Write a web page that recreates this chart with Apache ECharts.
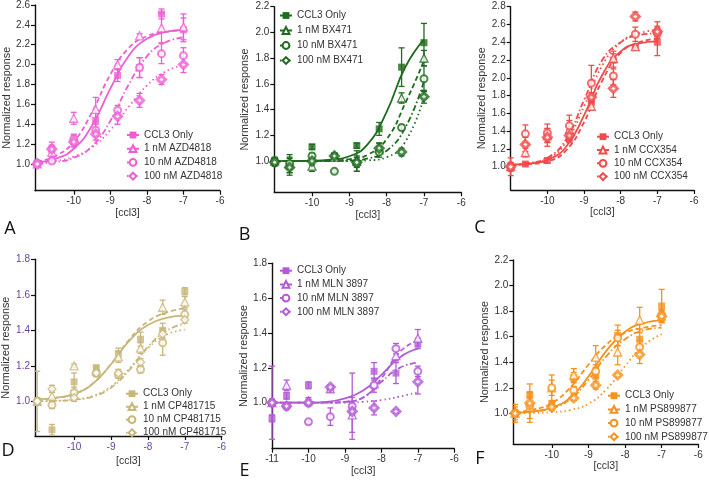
<!DOCTYPE html>
<html><head><meta charset="utf-8">
<script src="https://cdn.jsdelivr.net/npm/echarts@6/dist/echarts.min.js"></script>
<style>html,body{margin:0;padding:0;background:#fff}#c{width:709px;height:481px}</style>
</head><body><div id="c"></div>
<script>
// ---------- DATA ----------
const doseX = [-11, -10.6, -10, -9.4, -8.8, -8.2, -7.6, -7];
const fitX  = [-11, -10.5, -10, -9.5, -9, -8.5, -8, -7.5, -7];
const xTicks  = [-10, -9, -8, -7, -6];
const xTicksE = [-11, -10, -9, -8, -7, -6];
const yTicksA = [1.0, 1.2, 1.4, 1.6, 1.8, 2.0, 2.2, 2.4, 2.6];
const yTicksB = [1.0, 1.2, 1.4, 1.6, 1.8, 2.0, 2.2];
const yTicksC = [1.0, 1.2, 1.4, 1.6, 1.8, 2.0, 2.2, 2.4, 2.6, 2.8];
const yTicksD = [1.0, 1.2, 1.4, 1.6, 1.8];
const yTicksE = [1.0, 1.2, 1.4, 1.6, 1.8];
const yTicksF = [1.0, 1.2, 1.4, 1.6, 1.8, 2.0, 2.2];

const A_names = ['CCL3 Only', '1 nM AZD4818', '10 nM AZD4818', '100 nM AZD4818'];
const A_means = [
  [1.00, 1.15, 1.23, 1.44, 1.89, 1.97, 2.51, 2.35],
  [1.00, 1.12, 1.46, 1.55, 2.00, 2.29, 2.37, 2.38],
  [1.01, 1.03, 1.25, 1.34, 1.54, 1.97, 2.11, 2.09],
  [1.00, 1.15, 1.22, 1.30, 1.48, 1.64, 1.85, 2.00]];
const A_errs = [
  [0.02, 0.07, 0.06, 0.10, 0.06, 0.10, 0.05, 0.12],
  [0.02, 0.05, 0.06, 0.12, 0.05, 0.02, 0.15, 0.13],
  [0.02, 0.02, 0.05, 0.06, 0.05, 0.10, 0.10, 0.08],
  [0.02, 0.04, 0.04, 0.06, 0.08, 0.07, 0.05, 0.08]];
const A_fits = [
  [1.017, 1.052, 1.153, 1.387, 1.758, 2.087, 2.260, 2.327, 2.349],
  [1.026, 1.080, 1.225, 1.522, 1.900, 2.166, 2.286, 2.329, 2.343],
  [1.006, 1.020, 1.062, 1.178, 1.433, 1.797, 2.083, 2.223, 2.274],
  [1.012, 1.031, 1.074, 1.168, 1.340, 1.574, 1.789, 1.928, 1.998]];

const B_names = ['CCL3 Only', '1 nM BX471', '10 nM BX471', '100 nM BX471'];
const B_means = [
  [1.00, 0.96, 1.11, 1.04, 1.12, 1.25, 1.73, 1.92],
  [1.00, 0.98, 0.96, 1.03, 1.00, 1.10, 1.49, 1.80],
  [1.00, 0.98, 1.04, 0.92, 0.98, 1.07, 1.26, 1.64],
  [0.99, 0.95, 1.00, 1.04, 0.99, 1.10, 1.07, 1.50]];
const B_errs = [
  [0.03, 0.07, 0.02, 0.02, 0.02, 0.05, 0.15, 0.15],
  [0.02, 0.07, 0.04, 0.02, 0.08, 0.04, 0.04, 0.06],
  [0.02, 0.04, 0.02, 0.01, 0.06, 0.04, 0.02, 0.10],
  [0.03, 0.04, 0.03, 0.01, 0.04, 0.04, 0.03, 0.05]];
const B_fits = [
  [1.000, 1.001, 1.002, 1.010, 1.037, 1.133, 1.383, 1.731, 1.946],
  [1.000, 1.000, 1.001, 1.005, 1.015, 1.050, 1.170, 1.450, 1.780],
  [1.000, 1.000, 1.000, 1.000, 1.003, 1.020, 1.080, 1.260, 1.620],
  [1.000, 1.000, 1.000, 1.000, 1.000, 1.005, 1.030, 1.150, 1.500]];

const C_names = ['CCL3 Only', '1 nM CCX354', '10 nM CCX354', '100 nM CCX354'];
const C_means = [
  [1.00, 1.03, 1.07, 1.32, 1.72, 2.20, 2.34, 2.40],
  [1.00, 1.16, 1.35, 1.42, 1.68, 2.22, 2.35, 2.55],
  [1.00, 1.37, 1.38, 1.46, 1.94, 2.02, 2.49, 2.50],
  [1.00, 1.25, 1.33, 1.35, 1.78, 1.88, 2.69, 2.52]];
const C_errs = [
  [0.05, 0.02, 0.03, 0.05, 0.05, 0.10, 0.03, 0.15],
  [0.04, 0.05, 0.08, 0.10, 0.04, 0.05, 0.03, 0.08],
  [0.03, 0.10, 0.10, 0.12, 0.20, 0.10, 0.08, 0.06],
  [0.10, 0.08, 0.10, 0.06, 0.05, 0.10, 0.05, 0.06]];
const C_fits = [
  [1.024, 1.035, 1.076, 1.219, 1.577, 2.034, 2.298, 2.387, 2.411],
  [1.020, 1.030, 1.060, 1.180, 1.500, 1.970, 2.280, 2.400, 2.440],
  [1.020, 1.040, 1.100, 1.300, 1.750, 2.200, 2.400, 2.480, 2.500],
  [1.020, 1.040, 1.090, 1.270, 1.680, 2.140, 2.400, 2.500, 2.540]];

const D_names = ['CCL3 Only', '1 nM CP481715', '10 nM CP481715', '100 nM CP481715'];
const D_means = [
  [1.00, 0.84, 1.11, 1.19, 1.27, 1.35, 1.40, 1.62],
  [1.00, 1.03, 1.20, 1.17, 1.25, 1.30, 1.53, 1.56],
  [1.00, 0.98, 1.05, 1.16, 1.15, 1.18, 1.33, 1.49],
  [1.00, 1.07, 1.02, 1.16, 1.16, 1.22, 1.38, 1.46]];
const D_errs = [
  [0.17, 0.03, 0.05, 0.01, 0.03, 0.04, 0.04, 0.02],
  [0.02, 0.03, 0.01, 0.02, 0.03, 0.03, 0.04, 0.03],
  [0.02, 0.02, 0.03, 0.02, 0.02, 0.02, 0.07, 0.03],
  [0.02, 0.02, 0.02, 0.02, 0.02, 0.02, 0.03, 0.02]];
const D_fits = [
  [1.013, 1.020, 1.042, 1.098, 1.209, 1.342, 1.430, 1.470, 1.483],
  [1.010, 1.020, 1.040, 1.100, 1.210, 1.350, 1.450, 1.500, 1.525],
  [1.001, 1.003, 1.009, 1.027, 1.077, 1.178, 1.307, 1.397, 1.438],
  [1.001, 1.003, 1.011, 1.031, 1.084, 1.187, 1.300, 1.375, 1.404]];

const E_names = ['CCL3 Only', '1 nM MLN 3897', '10 nM MLN 3897', '100 nM MLN 3897'];
const E_means = [
  [0.91, 1.04, 1.10, 1.08, 0.96, 1.18, 1.17, 1.34],
  [1.00, 1.10, 1.01, 1.08, 0.93, 1.11, 1.27, 1.37],
  [1.00, 0.98, 0.89, 0.92, 0.98, 1.10, 1.31, 1.18],
  [1.00, 0.98, 1.00, 1.09, 0.95, 0.97, 0.95, 1.12]];
const E_errs = [
  [0.02, 0.02, 0.02, 0.01, 0.03, 0.05, 0.06, 0.03],
  [0.21, 0.03, 0.02, 0.01, 0.10, 0.03, 0.03, 0.05],
  [0.02, 0.02, 0.01, 0.05, 0.19, 0.04, 0.03, 0.03],
  [0.02, 0.01, 0.02, 0.01, 0.02, 0.04, 0.01, 0.07]];
const E_fits = [
  [1.000, 1.000, 1.000, 1.005, 1.025, 1.070, 1.160, 1.260, 1.310],
  [1.000, 1.000, 1.000, 1.000, 1.005, 1.030, 1.140, 1.290, 1.360],
  [1.000, 1.000, 1.000, 1.000, 1.005, 1.030, 1.120, 1.200, 1.230],
  [1.000, 1.000, 1.000, 1.000, 1.000, 1.005, 1.015, 1.035, 1.060]];

const F_names = ['CCL3 Only', '1 nM PS899877', '10 nM PS899877', '100 nM PS899877'];
const F_means = [
  [1.00, 1.14, 1.07, 1.28, 1.29, 1.61, 1.58, 1.84],
  [1.00, 1.05, 1.20, 1.30, 1.44, 1.48, 1.73, 1.76],
  [1.00, 1.06, 1.20, 1.18, 1.33, 1.59, 1.52, 1.77],
  [1.00, 1.08, 1.05, 1.12, 1.22, 1.30, 1.46, 1.76]];
const F_errs = [
  [0.07, 0.09, 0.03, 0.04, 0.07, 0.08, 0.08, 0.13],
  [0.05, 0.12, 0.10, 0.05, 0.09, 0.10, 0.10, 0.05],
  [0.03, 0.10, 0.06, 0.03, 0.05, 0.06, 0.05, 0.04],
  [0.03, 0.05, 0.03, 0.02, 0.03, 0.01, 0.07, 0.04]];
const F_fits = [
  [1.005, 1.015, 1.044, 1.123, 1.287, 1.493, 1.639, 1.705, 1.728],
  [1.010, 1.030, 1.080, 1.200, 1.380, 1.540, 1.630, 1.670, 1.690],
  [1.005, 1.015, 1.040, 1.110, 1.260, 1.450, 1.580, 1.650, 1.670],
  [1.000, 1.003, 1.009, 1.026, 1.075, 1.190, 1.370, 1.530, 1.620]];

// ---------- LAYOUT / STYLE ----------
const panels = [
  {L:'A', names:A_names, means:A_means, errs:A_errs, fits:A_fits, color:'#ec5fd4', yT:yTicksA, xT:xTicks,
   g:{left:35, top:5, width:185, height:185.7}, xMin:-11.06, yMin:0.731, yMax:2.6,
   leg:{left:126, top:129, gap:1.7}, yGap:21, xGap:16, letter:[10,229], openDiamond:false, lblColor:'#333'},
  {L:'B', names:B_names, means:B_means, errs:B_errs, fits:B_fits, color:'#1e6b1e', yT:yTicksB, xT:xTicks,
   g:{left:274.3, top:6.7, width:187, height:185.6}, xMin:-11.01, yMin:0.757, yMax:2.2,
   leg:{left:279, top:9.5, gap:3}, yGap:24, xGap:15.5, letter:[244.5,235], openDiamond:false, lblColor:'#333'},
  {L:'C', names:C_names, means:C_means, errs:C_errs, fits:C_fits, color:'#f04a4a', yT:yTicksC, xT:xTicks,
   g:{left:510.7, top:6.7, width:183.3, height:183.3}, xMin:-11.0, yMin:0.738, yMax:2.8,
   leg:{left:596, top:130.7, gap:1.3}, yGap:22, xGap:16, letter:[480,227.5], openDiamond:false, lblColor:'#333'},
  {L:'D', names:D_names, means:D_means, errs:D_errs, fits:D_fits, color:'#c8b67a', yT:yTicksD, xT:xTicks,
   g:{left:35, top:259.3, width:186.7, height:176.7}, xMin:-11.06, yMin:0.805, yMax:1.8,
   leg:{left:125, top:387.7, gap:1}, yGap:23, xGap:20, letter:[8,451], openDiamond:true, lblColor:'#6b3fa0'},
  {L:'E', names:E_names, means:E_means, errs:E_errs, fits:E_fits, color:'#b35bd6', yT:yTicksE, xT:xTicksE,
   g:{left:272, top:263.3, width:182.3, height:185.4}, xMin:-11.0, yMin:0.736, yMax:1.8,
   leg:{left:279, top:264.7, gap:1.7}, yGap:22, xGap:15, letter:[244.5,471], openDiamond:false, lblColor:'#333'},
  {L:'F', names:F_names, means:F_means, errs:F_errs, fits:F_fits, color:'#f5921e', yT:yTicksF, xT:xTicks,
   g:{left:513.3, top:260, width:185, height:184}, xMin:-11.05, yMin:0.76, yMax:2.2,
   leg:{left:607, top:389.7, gap:1.7}, yGap:23, xGap:12, letter:[480,459], openDiamond:false, lblColor:'#333'}
];

const FONT = 'Liberation Sans, Arial, sans-serif';
const dashTypes = ['solid', [5, 3], [6, 2.5, 1.5, 2.5], [1.5, 3]];
const symbols = ['rect', 'triangle', 'circle', 'diamond'];
const symSizes = [7, 8, 7, 8];

function markerStyle(k, col, openDiamond) {
  if (k === 0) return {color: col, borderColor: col, borderWidth: 0};
  if (k === 1) return {color: '#fff', borderColor: col, borderWidth: 1.3};
  if (k === 2) return {color: '#fff', borderColor: col, borderWidth: 2};
  return openDiamond ? {color: '#fff', borderColor: col, borderWidth: 1.3}
                     : {color: '#fff', borderColor: col, borderWidth: 3};
}

function errRender(params, api) {
  const x = api.value(0), lo = api.value(1), hi = api.value(2);
  const p1 = api.coord([x, lo]), p2 = api.coord([x, hi]);
  const w = 3;
  const style = {stroke: api.visual('color'), lineWidth: 1.3};
  return {type: 'group', children: [
    {type: 'line', shape: {x1: p1[0], y1: p1[1], x2: p2[0], y2: p2[1]}, style: style},
    {type: 'line', shape: {x1: p1[0] - w, y1: p1[1], x2: p1[0] + w, y2: p1[1]}, style: style},
    {type: 'line', shape: {x1: p2[0] - w, y1: p2[1], x2: p2[0] + w, y2: p2[1]}, style: style}
  ]};
}

const grid = [], xAxis = [], yAxis = [], series = [], legend = [], graphic = [];
panels.forEach((p, i) => {
  grid.push(Object.assign({containLabel: false}, p.g));
  const axLine = {show: true, onZero: false, lineStyle: {color: '#111', width: 1.4}};
  const tick = {show: true, length: 4, lineStyle: {color: '#111', width: 1.2}};
  xAxis.push({type: 'value', gridIndex: i, min: p.xMin, max: -6,
    axisLine: axLine, splitLine: {show: false},
    axisTick: Object.assign({customValues: p.xT}, tick),
    axisLabel: {customValues: p.xT, formatter: v => String(Math.round(v)), fontSize: 10, color: p.lblColor, fontFamily: FONT, margin: 6},
    name: '[ccl3]', nameLocation: 'middle', nameGap: p.xGap,
    nameTextStyle: {fontSize: 10.5, color: '#333', fontFamily: FONT}});
  yAxis.push({type: 'value', gridIndex: i, min: p.yMin, max: p.yMax,
    axisLine: axLine, splitLine: {show: false},
    axisTick: Object.assign({customValues: p.yT}, tick),
    axisLabel: {customValues: p.yT, formatter: v => v.toFixed(1), fontSize: 10, color: p.lblColor, fontFamily: FONT, margin: 5},
    name: 'Normalized response', nameLocation: 'middle', nameGap: p.yGap, nameRotate: 90,
    nameTextStyle: {fontSize: 10.8, color: '#333', fontFamily: FONT}});
  const legNames = [];
  for (let k = 0; k < 4; k++) {
    const ms = markerStyle(k, p.color, p.openDiamond);
    const sName = p.L + '|' + p.names[k];
    legNames.push(sName);
    series.push({type: 'line', name: sName, xAxisIndex: i, yAxisIndex: i,
      data: fitX.map((x, j) => [x, p.fits[k][j]]), smooth: 0.5, showSymbol: false,
      symbol: symbols[k], symbolSize: symSizes[k], itemStyle: ms,
      lineStyle: {color: p.color, width: 1.8, type: dashTypes[k]}, z: 2, silent: true});
    series.push({type: 'custom', name: p.L + '_err' + k, xAxisIndex: i, yAxisIndex: i,
      data: doseX.map((x, j) => [x, p.means[k][j] - p.errs[k][j], p.means[k][j] + p.errs[k][j]]),
      encode: {x: 0, y: [1, 2]}, renderItem: errRender, itemStyle: {color: p.color}, z: 3, clip: false, silent: true});
    series.push({type: 'scatter', name: p.L + '_pts' + k, xAxisIndex: i, yAxisIndex: i,
      data: doseX.map((x, j) => [x, p.means[k][j]]), symbol: symbols[k], symbolSize: symSizes[k],
      itemStyle: ms, z: 4, clip: false, silent: true});
  }
  legend.push({orient: 'vertical', left: p.leg.left, top: p.leg.top, itemGap: p.leg.gap,
    itemWidth: 12, itemHeight: 8.5, selectedMode: false, padding: 0,
    formatter: n => n.split('|')[1],
    textStyle: {fontSize: 10, lineHeight: 12, color: '#333', fontFamily: FONT},
    data: legNames});
  graphic.push({type: 'text', x: p.letter[0], y: p.letter[1],
    style: {text: p.L, fontSize: 18, fontFamily: 'Open Sans, sans-serif', fill: '#111', align: 'center', verticalAlign: 'middle'}});
});

const chart = echarts.init(document.getElementById('c'), null, {renderer: 'canvas'});
chart.setOption({animation: false, backgroundColor: '#fff', grid, xAxis, yAxis, series, legend, graphic});
</script></body></html>
